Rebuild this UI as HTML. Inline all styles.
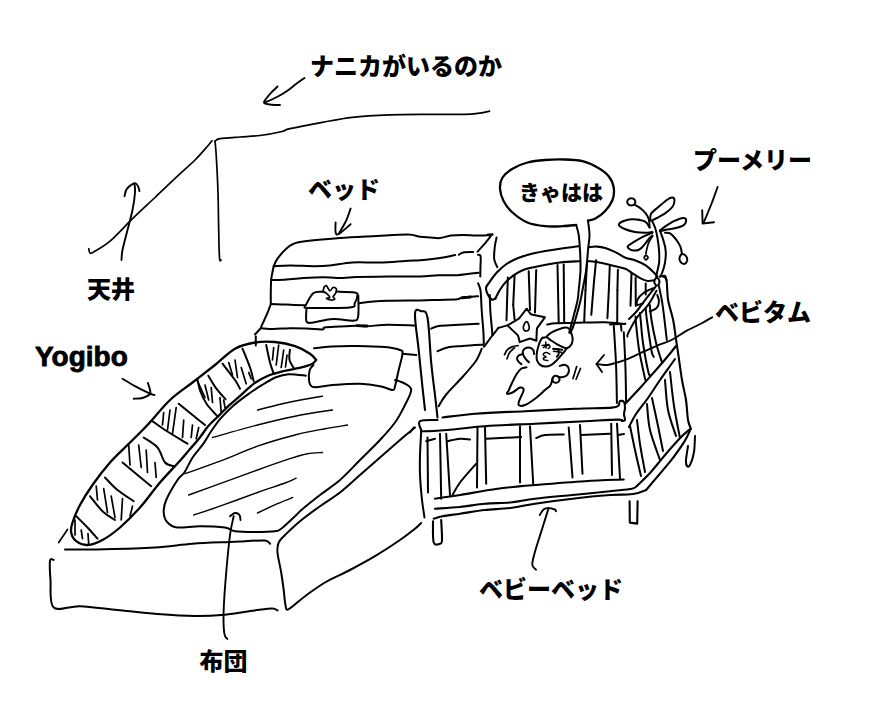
<!DOCTYPE html>
<html lang="ja"><head><meta charset="utf-8"><title>sketch</title>
<style>
html,body{margin:0;padding:0;background:#fff;font-family:"Liberation Sans",sans-serif;}
body{width:890px;height:716px;overflow:hidden;}
svg{display:block;}
.ln{fill:none;stroke:#000;stroke-linecap:round;stroke-linejoin:round;}
.tx{fill:#000;stroke:none;}
</style></head><body>
<svg width="890" height="716" viewBox="0 0 890 716" role="img" aria-label="hand-drawn bedroom sketch">
<rect width="890" height="716" fill="#fff"/>
<g class="ln" stroke-width="1.4">
<path d="M257.5 410C261.7 408.9 274.2 405.6 282.5 403.7C290.8 401.8 300.8 399.9 307.5 398.7C314.2 397.4 320 396.6 322.5 396.2"/>
<path d="M212.5 437.5C220 435.4 243.8 428.6 257.5 425C271.2 421.4 282.5 418.7 295 416.2C307.5 413.7 326.2 411 332.5 410"/>
<path d="M185 473.7C190.8 471.6 207.9 465.8 220 461.2C232.1 456.6 245 450.6 257.5 446.2C270 441.8 283.8 437.9 295 435C306.2 432.1 316.2 430.4 325 428.7C333.8 427 343.8 425.6 347.5 425"/>
<path d="M188.7 495C193.9 493.1 208.5 487.9 220 483.7C231.5 479.5 245.8 474.2 257.5 470C269.2 465.8 281.7 461.4 290 458.7C298.3 456 302.1 454.7 307.5 453.7C312.9 452.7 320 452.7 322.5 452.5"/>
<path d="M193.7 515C198.1 513.5 209.4 509.9 220 506.2C230.6 502.4 246.7 496.4 257.5 492.5C268.3 488.6 278.6 485.4 285 483C291.4 480.6 294.3 479 296.2 478.2"/>
<path d="M257.5 513C260.8 511.4 271.7 506.3 277.5 503.7C283.3 501.1 290 498.5 292.5 497.5"/>
</g>
<g class="ln" stroke-width="1.5">
<path d="M542.1 345.5L548.8 344.5"/>
<path d="M545.8 342.1L546.1 348.1"/>
<path d="M543.4 347.5C544 347.2 545.8 345.8 546.8 345.5C547.8 345.2 548.9 345.2 549.4 345.5C549.9 345.8 550 347 549.8 347.5C549.6 348 548.4 348.3 548.1 348.5"/>
<path d="M553.5 351.2L561.5 352.2"/>
<path d="M549.8 354.2C549.3 353.9 547.8 352.7 546.8 352.5C545.8 352.3 544.7 352.8 544.1 353.2C543.5 353.6 543.1 354.6 543.4 355.2C543.7 355.8 546.1 356.4 546.1 356.9C546.1 357.4 543.7 357.7 543.4 358.2C543.1 358.7 543.4 359.5 544.1 359.9C544.8 360.3 547.2 360.4 547.8 360.5"/>
</g>
<g class="ln" stroke-width="1.7">
<path d="M88.7 248.7C88.9 249.4 89.2 252.4 90 253C90.8 253.6 90.4 254 93.7 252C97 250 103.5 246.8 110 241.2C116.5 235.6 125 226 132.5 218.7C140 211.4 147.5 204.6 155 197.5C162.5 190.4 170.8 182.4 177.5 176.2C184.2 169.9 190 165 195 160C200 155 204.7 149.4 207.5 146.2C210.3 143 211.2 141.6 212 140.7"/>
<path d="M215 141.2C215.2 143.5 215.7 146.4 216.2 155C216.7 163.6 217.6 180 218 192.5C218.4 205 218.4 219.1 218.7 230C218.9 240.9 219.1 253 219.5 258C219.9 263 220.8 259.7 221 260"/>
<path d="M215 141.2C215.8 140.8 215.8 139.4 220 138.7C224.2 138 233.3 137.5 240 137C246.7 136.5 253 136.4 260 135.5C267 134.6 277 132.7 282 131.5C287 130.3 283.3 130.1 290 128.6C296.7 127.1 312 124.2 322.4 122.3C332.8 120.4 341.2 118.5 352.4 117.3C363.6 116 376.9 115.3 389.8 114.8C402.7 114.3 417.2 114.4 429.7 114.3C442.2 114.2 456.3 114.5 464.6 114.3C472.9 114.1 475.5 113.6 479.6 113.1C483.8 112.6 487.9 111.4 489.5 111.1"/>
<path d="M323.1 291.6C323.2 290.9 323.4 288.5 324 287.5C324.6 286.5 325.5 285.2 326.5 285.8C327.5 286.4 328.7 290.5 329.8 290.8C330.9 291.1 332 287.8 333.1 287.5C334.2 287.2 336 288.1 336.4 289.1C336.8 290.1 336.2 292.1 335.6 293.3C335.1 294.6 333.2 295.6 333.1 296.6C333 297.6 335.2 298.5 334.8 299.1C334.4 299.7 332 300.1 330.6 300C329.2 299.9 326.6 298.7 326.5 298.3C326.4 297.9 329.8 298.2 329.8 297.4C329.8 296.6 327.6 294.3 326.5 293.3C325.4 292.3 323.7 291.9 323.1 291.6"/>
<path d="M58.7 542.5L67.5 529.5"/>
<path d="M228.7 362.5L232.5 375"/>
<path d="M235 360L237.5 377.5"/>
<path d="M241.2 367.5L246.2 383.7"/>
<path d="M248.7 372.5L251.2 378.7"/>
<path d="M273.7 347.5L272.5 360"/>
<path d="M278.7 345L276.2 365"/>
<path d="M283.7 350L281.2 367.5"/>
<path d="M287 355L285.5 367"/>
<path d="M197.5 381.2L205 397.5"/>
<path d="M205 385L208.7 400"/>
<path d="M211.2 387.5L212.5 402.5"/>
<path d="M220 397.5L221.2 412.5"/>
<path d="M223.7 400L225 407.5"/>
<path d="M163.7 412.5L162.5 425"/>
<path d="M170 410L167.5 430"/>
<path d="M176.2 407.5L172.5 433.7"/>
<path d="M183.7 420L182.5 437.5"/>
<path d="M192.5 425L191.2 437.5"/>
<path d="M198.7 427.5L196.2 438.7"/>
<path d="M128.7 445L130 465"/>
<path d="M138.7 445L141.2 467.5"/>
<path d="M146.2 450L147.5 472.5"/>
<path d="M155 462.5L156.2 477.5"/>
<path d="M96.2 486.2L97.5 500"/>
<path d="M103.7 488.7L107.5 512.5"/>
<path d="M111.2 496.2L115 517.5"/>
<path d="M122.5 498.7L121.2 520"/>
<path d="M132.5 506.2L130 516.2"/>
<path d="M75 520L75 535"/>
<path d="M81.2 530L82.5 538.7"/>
<path d="M88 533.7L88.7 543.7"/>
<path d="M526.6 321.7C525.7 321.8 524.1 324.6 523.6 326C523.1 327.4 523.4 329.1 523.9 329.9C524.4 330.7 525.7 331.1 526.5 331C527.3 330.9 528.5 330.3 528.9 329.4C529.3 328.5 529.3 326.7 528.9 325.4C528.5 324.1 527.5 321.6 526.6 321.7Z"/>
<path d="M504.5 354.7C505 353.9 506.1 351 507.5 349.7C508.9 348.4 510.8 347.3 512.6 346.6C514.4 345.9 517.2 345.8 518.1 345.6"/>
<path d="M507 358.8C507.4 357.8 508.2 354.6 509.5 352.7C510.8 350.8 513.8 348.5 514.6 347.6"/>
<path d="M573 378.6L576.7 366.6"/>
<path d="M576.1 379.2L580.5 368.5"/>
<path d="M652.5 236.3C651.9 237.3 649.9 240 648.9 242.2C647.9 244.4 647.2 247.6 646.7 249.5C646.2 251.4 646 253.2 645.9 253.9"/>
<path d="M646 255.3C646.6 255.3 648 256.8 648 257.5C648 258.2 646.6 259.8 646 259.8C645.4 259.8 644.2 258.2 644.2 257.5C644.2 256.8 645.4 255.3 646 255.3Z"/>
</g>
<g class="ln" stroke-width="1.8">
<path d="M558.2 348.8C558.3 349.6 559 352.1 558.8 353.5C558.6 354.9 557.1 356.3 556.8 356.9"/>
</g>
<g class="ln" stroke-width="1.9">
<path d="M121.5 260C121.7 258.3 121.5 255 122.5 250C123.5 245 125.8 236.7 127.5 230C129.2 223.3 131.2 216.2 132.5 210C133.8 203.8 134.7 196.9 135 192.5C135.3 188.1 134.6 185.2 134.5 183.7"/>
<path d="M124.5 196.2C124.9 194.9 125.3 190.9 127 188.7C128.7 186.5 132.7 183.6 134.5 183.2C136.3 182.8 137.2 184.9 138 186.2C138.8 187.5 139.2 190.4 139.5 191.2"/>
<path d="M304.5 78C303.1 79 298.9 81.8 296 84C293.1 86.2 290.2 88.8 287 91C283.8 93.2 280.7 95.1 277 97C273.3 98.9 267 101.6 265 102.5"/>
<path d="M277.5 86.5C276.2 87.8 272.2 91.3 270 94C267.8 96.7 263.7 100.7 264 102.5C264.3 104.3 269.3 104.3 272 104.7C274.7 105.1 278.7 105 280 105"/>
<path d="M350.6 208.6C349.8 210.7 348 216.8 346 221C344 225.2 340 231.5 338.8 233.6"/>
<path d="M335.6 222.4C335.6 224.1 335.1 230.4 335.6 232.3C336.1 234.2 336.3 235.3 338.8 234C341.3 232.7 348.6 225.8 350.6 224.2"/>
<path d="M717.6 187C716.5 190 713.4 199 711 205C708.6 211 704.8 220 703.5 223"/>
<path d="M702.2 210.3L702.6 223.5L714 222.3"/>
<path d="M122.5 378.7C124.6 379.9 130.4 383.7 135 386.2C139.6 388.7 146.8 392.2 150 393.7C153.2 395.2 153.8 394.8 154.5 395"/>
<path d="M148 383C148.3 384.2 149.7 388.1 150 390C150.3 391.9 151.2 392.9 150 394.2C148.8 395.5 145.2 397.2 142.5 398C139.8 398.8 135.2 398.6 133.7 398.7"/>
<path d="M227.3 638.9C226.8 638 224.9 637.9 224.3 633.4C223.7 628.9 223.3 622.1 223.6 612C223.9 601.9 225.1 585.3 226.2 572.5C227.3 559.7 228.8 544.4 230 535C231.2 525.6 233.1 519.3 233.7 516.2"/>
<path d="M230 516.2C230.8 515.7 233.4 513.2 235 513C236.6 512.8 238.6 513.8 239.5 515C240.4 516.2 240.3 519.2 240.5 520"/>
<path d="M536 569.8C535.4 569 532.5 567.7 532.3 564.8C532.1 561.9 533.3 557.8 534.8 552.4C536.2 547 538.9 539.1 541 532.4C543.1 525.7 546 516.4 547.3 512.4C548.5 508.4 548.3 509.3 548.5 508.7"/>
<path d="M539.8 515C540.4 514.1 542 510.7 543.5 509.5C545 508.3 546.6 508 548.5 508C550.4 508 553.5 509 554.8 509.5C556 510 555.8 510.9 556 511.2"/>
<path d="M596.5 364C597.8 364.2 601.8 364.9 604 365C606.2 365.1 606.4 365.4 610 364.5C613.6 363.6 620.3 361.8 625.4 359.9C630.5 358 635.6 355.3 640.7 353C645.8 350.7 651 348.3 656.1 346.1C661.2 343.9 666.3 342.6 671.4 340C676.5 337.4 681.7 333.5 686.8 330.7C691.9 327.9 698 325.2 702.2 323C706.4 320.8 710.5 318.2 712.2 317.3"/>
<path d="M604 355L596.5 364L602 372"/>
</g>
<g class="ln" stroke-width="2">
<path d="M273.7 266.2C274.3 264.9 275.4 261.6 277.5 258.7C279.6 255.8 283.5 251.2 286.2 248.7C288.9 246.2 290.6 244.9 293.7 243.7C296.8 242.4 297.3 242.1 305 241.2C312.7 240.2 328 238.9 340 238C352 237.1 365.7 236.6 377 236C388.3 235.4 400.8 234.5 408 234.6C415.2 234.7 416.4 236.3 420 236.8C423.6 237.3 426.6 237.3 429.9 237.5C433.2 237.7 436.3 238.4 439.8 238.1C443.3 237.8 447 236.1 450.9 235.6C454.8 235.1 459.2 235 463.3 235C467.4 235 471.7 235.5 475.6 235.6C479.5 235.7 484 235.4 486.7 235.3C489.4 235.2 490.9 235.1 491.7 235"/>
<path d="M491.1 235.6C490 237 486.6 241.5 484.3 244.2C482 246.9 478.6 250.4 477.5 251.7"/>
<path d="M273.7 266.2C276.4 266.1 283.1 265.5 290 265.5C296.9 265.5 308.3 266.2 315 266.2C321.7 266.2 323.8 266.1 330 265.5C336.2 264.9 344.2 263 352.5 262.5C360.8 262 371.2 262.8 380 262.5C388.8 262.2 398.3 261.4 405 261C411.7 260.6 415.4 260.6 420 260.3C424.6 260 428.3 259.6 432.4 259.1C436.5 258.6 440.9 257.9 444.7 257.2C448.5 256.5 453.4 255.4 455.2 255.1"/>
<path d="M458.9 254.8C459.6 254.4 460.9 252.9 463.3 252.4C465.7 251.9 471.6 252.1 473.2 252"/>
<path d="M273.7 266.2C273.5 267.3 272.7 270.7 272.3 273C271.9 275.3 271.4 276.9 271.2 280C270.9 283.1 270.9 287.7 270.8 291.6C270.7 295.5 270.8 301.5 270.8 303.5"/>
<path d="M271.2 280C273.2 280 277.9 280.1 283.2 279.8C288.5 279.5 296.5 278.4 303.2 278C309.9 277.6 316.5 277.2 323.1 277.2C329.8 277.2 337.6 278 343.1 278C348.7 278 348.9 277.2 356.4 277C363.9 276.8 377.4 276.6 388 276.5C398.6 276.4 411.6 276.6 420 276.4C428.4 276.2 432.3 275.4 438.5 275.2C444.7 275 452 275.4 457.1 275.2C462.2 274.9 465.8 274.1 469.4 273.7C473 273.3 477.1 272.9 478.7 272.7"/>
<path d="M270.8 304C273.4 304.1 280.9 304.4 286.6 304.6C292.3 304.8 301.9 305.2 305 305.3"/>
<path d="M358.9 303.3C361.2 303 368.1 302 373 301.6C377.9 301.2 380.2 301 388 300.8C395.8 300.6 411.6 300.6 420 300.5C428.4 300.4 432.3 300.1 438.5 299.9C444.7 299.7 453.2 299.7 457.1 299.3C461 298.9 458.5 298.1 462 297.6C465.5 297.1 475.4 296.4 478.1 296.2"/>
<path d="M270.8 304C270.2 305.5 268.8 309.9 267.4 313.2C266 316.5 263.5 321.6 262.4 324C261.3 326.4 261.2 326.9 261 327.5"/>
<path d="M260.8 328.2C262.9 328.3 268.5 329 273.3 329C278.1 329 284.4 328.3 289.9 328.2C295.4 328.1 301.1 328.3 306.5 328.5C311.9 328.7 319.2 329.7 322.3 329.5C325.4 329.3 321.9 327.9 324.8 327.4C327.7 326.9 334.5 326.8 339.8 326.5C345.1 326.2 352 325.8 356.4 325.7C360.8 325.6 361.1 326.3 366.4 326.2C371.7 326.1 379.9 324.9 388 324.8C396.1 324.7 410.5 325.4 415 325.5"/>
<path d="M260 329L255 334.5"/>
<path d="M255.8 336.5L255.8 345.5"/>
<path d="M478.1 254.8C478.5 255 480.2 254.3 480.6 256.2C481 258.1 480.6 262.6 480.5 266C480.4 269.4 480.3 274.7 480.3 276.4"/>
<path d="M478.1 283.2C478.5 284.5 480 286.7 480.6 291.2C481.2 295.7 481.2 303.7 481.7 310.2C482.1 316.7 482.9 324.8 483.3 330.4C483.7 336 483.7 341.4 483.8 343.6"/>
<path d="M431.2 328.7C432.2 328.3 434.4 326.8 437.5 326.2C440.6 325.6 443.1 325.6 450 325.2C456.9 324.8 473.9 323.9 478.7 323.7"/>
<path d="M437.5 351.2C439.2 350.6 443.3 348.4 447.5 347.5C451.7 346.6 456.5 346.5 462.5 346C468.5 345.5 480 344.9 483.5 344.7"/>
<path d="M496.6 237.5C496.3 239 495.2 243.1 494.8 246.7C494.4 250.3 493.8 255.7 494.2 259.1C494.6 262.5 496.8 265.8 497.3 267.1"/>
<path d="M489.8 295C489.9 297.5 490 304.6 490.3 310.2C490.6 315.8 491.5 324.2 491.9 328.4C492.2 332.6 492.3 334.3 492.4 335.5"/>
<path d="M304.5 307.6C305.9 305.2 310.1 295.9 313.2 293.3C316.3 290.7 321.5 292.1 323.1 291.8"/>
<path d="M336.4 291.6C339.4 291.7 351.2 291.8 354.7 292.4C358.2 293 357.4 293.2 357.4 295C357.4 296.8 356 301.2 354.7 303.3C353.4 305.4 357.7 306.6 349.7 307.4C341.7 308.2 313.7 307.9 306.5 308"/>
<path d="M306.5 308C306.5 310.2 305.4 319.1 306.5 321.5C307.6 323.9 308.8 322.8 313.2 322.4C317.6 322 326.5 319.3 333.1 319C339.8 318.7 348.9 321.1 353.1 320.7C357.3 320.3 357.2 320.8 358.1 316.6C359 312.4 358.3 299 358.3 295.5"/>
<path d="M314 348.2C316.9 347.9 324.4 346.9 331.5 346.5C338.6 346.1 347.5 345.9 356.4 346C365.3 346.1 377.7 346.3 385 347C392.3 347.7 397.1 348.9 400 350C402.9 351.1 402.7 350.4 402.5 353.7C402.3 357 399.9 364.6 398.7 370C397.4 375.4 396 382.9 395 386.2C394 389.5 395 390 392.5 390C390 390 385.4 387.2 380 386.2C374.6 385.1 367.9 383.9 360 383.7C352.1 383.5 340.3 384.4 332.5 385C324.7 385.6 317.1 387.8 313.2 387C309.3 386.2 309.6 382.9 309 380C308.4 377.1 309.1 372.3 309.8 369.8C310.6 367.3 312.9 365.8 313.5 365"/>
<path d="M402.5 353.7L416.2 355"/>
<path d="M395 380C396.7 380.6 402.3 382 405 383.7C407.7 385.4 411.2 386.4 411.2 390C411.2 393.6 407.7 399.6 405 405C402.3 410.4 399.2 416.7 395 422.5C390.8 428.3 385.8 433.8 380 440C374.2 446.2 366.7 453.3 360 460C353.3 466.7 346.7 474.2 340 480C333.3 485.8 326.2 490.2 320 495C313.8 499.8 306.7 505.5 302.5 509C298.3 512.5 298.6 512.9 295 516.2C291.4 519.5 284.5 526.2 281.2 528.7C277.9 531.2 279.4 530.7 275 531.2C270.6 531.8 261.7 532 255 532C248.3 532 240 532 235 531.2C230 530.5 230.8 528.3 225 527.5C219.2 526.7 207.9 526.2 200 526.2C192.1 526.2 182.9 528.1 177.5 527.5C172.1 526.9 169.8 525 167.5 522.5C165.2 520 163.9 516.2 163.7 512.5C163.5 508.8 163.9 505.4 166.2 500C168.5 494.6 174.4 484.7 177.5 480C180.6 475.3 182.2 475.8 184.7 472C187.2 468.2 189.4 462.3 192.6 457.5C195.8 452.7 200.4 447.8 203.6 443.4C206.8 438.9 208.6 435 211.5 430.8C214.4 426.6 217.2 422.4 220.9 418.2C224.6 414 229.1 409.5 233.5 405.6C237.9 401.7 242.9 398 247.6 394.6C252.3 391.2 257.1 388.1 261.8 385.2C266.5 382.3 271.6 379.1 276 377.3C280.4 375.5 283.5 374.5 288.5 374.2C293.5 373.9 302.9 375.4 305.8 375.7"/>
<path d="M415 427.5C412.5 429.6 405.8 435 400 440C394.2 445 386.7 451.7 380 457.5C373.3 463.3 366.7 469.2 360 475C353.3 480.8 346.7 487.3 340 492.5C333.3 497.7 326.7 501.4 320 506.2C313.3 511 305.8 516.4 300 521.2C294.2 526 288.6 531.5 285 535C281.4 538.5 279.9 539.6 278.7 542.5C277.4 545.4 277.1 547.5 277.5 552.5C277.9 557.5 280.2 566.2 281.2 572.5C282.2 578.8 283 584.6 283.7 590C284.4 595.4 284.7 601.8 285.5 605C286.3 608.2 285.4 610.7 288.7 609.2C291.9 607.7 298.9 600.7 305 596.2C311.1 591.8 317.5 586.9 325 582.5C332.5 578.1 341.7 574.4 350 570C358.3 565.6 366.7 561.2 375 556.2C383.3 551.2 393.3 544.6 400 540C406.7 535.4 411.5 531.5 415 528.7C418.5 525.9 420.2 524 421.2 523"/>
<path d="M65 549.5C71.7 549.5 90 549.5 105 549.2C120 548.9 140.4 548.4 155 547.5C169.6 546.6 180 544.6 192.5 543.7C205 542.8 221.2 542.4 230 542C238.8 541.6 239.2 541.5 245 541.2C250.8 541 260.8 540.1 265 540.5C269.2 540.9 269.2 543.2 270 543.7"/>
<path d="M53.7 560C53.1 560.1 50.5 557.4 50 560.7C49.5 564 49.9 572.2 50.5 580C51.1 587.8 48.8 603.1 53.7 607.5C58.6 611.9 69.4 605.8 80 606.2C90.6 606.6 104.6 608.7 117.5 610C130.4 611.3 144.5 613 157.4 614C170.3 615 183.6 615.9 194.8 616C206 616.1 214.8 615.6 224.8 614.7C234.8 613.8 246.8 611.4 254.7 610.4C262.6 609.4 268.4 608.5 272.2 608.5C276 608.5 276.7 610.1 277.6 610.4"/>
<path d="M222.5 363.7C224.6 366.4 232.1 375.8 235 380C237.9 384.2 239.2 387.2 240 388.7"/>
<path d="M242.5 348.7C243.8 351.8 248.1 362.1 250 367.5C251.9 372.9 253.1 378.9 253.7 381.2"/>
<path d="M266.2 345C266.8 347.9 268.8 357.7 270 362.5C271.2 367.3 273.1 371.8 273.7 373.7"/>
<path d="M289.9 349.8C289.8 351.5 288.8 356.7 289.5 359.8C290.2 362.9 293.2 367.1 294 368.5"/>
<path d="M197.3 378.9C197.8 381 198.8 387.3 200.4 391.5C202 395.7 203.9 399.9 206.7 404C209.5 408.1 215.3 413.8 217 415.8"/>
<path d="M208.3 375.7C209.6 377.8 213.3 384.4 216.2 388.3C219.1 392.2 224 397.5 225.6 399.3"/>
<path d="M178.7 403.7C181 405.6 188.1 411.4 192.5 415C196.9 418.6 202.9 423.3 205 425"/>
<path d="M152.5 421.2C154.6 422.7 159.2 426.2 165 430C170.8 433.8 183.8 441.4 187.5 443.7"/>
<path d="M143.7 437.5C146 439.2 153.9 443.3 157.5 447.5C161.1 451.7 162.3 459.4 165 462.5C167.7 465.6 172.2 465.6 173.7 466.2"/>
<path d="M122.5 462.5C125 464.6 132.7 471.1 137.5 475C142.3 478.9 148.9 484.3 151.2 486.2"/>
<path d="M105 477.5C107.1 479.6 112.7 486.1 117.5 490C122.3 493.9 131 499.3 133.7 501.2"/>
<path d="M90 496.2C92.1 498.7 98.3 507.2 102.5 511.2C106.7 515.2 112.9 518.5 115 520"/>
<path d="M76.2 516.2C78.1 518.1 84 523.8 87.5 527.5C91 531.2 95.8 536.8 97.5 538.7"/>
<path d="M507.8 277.6L506.5 320.3"/>
<path d="M514.6 275.2L513.2 305"/>
<path d="M513.2 305L514.6 319.3"/>
<path d="M528.7 271.2L530 310"/>
<path d="M536.2 270L535 312.5"/>
<path d="M557.5 265L558.7 322.5"/>
<path d="M563.7 264.5L564.2 322.5"/>
<path d="M587 261.7L585.5 290"/>
<path d="M585.5 290L584.2 321.5"/>
<path d="M596.1 260.2L594.1 280.4"/>
<path d="M594.1 280.4L591.3 314.8"/>
<path d="M609.8 265.3L608.8 290.6"/>
<path d="M608.8 290.6L607.4 318.2"/>
<path d="M617.9 269.8L617.4 290.6"/>
<path d="M617.4 290.6L617.2 322.3"/>
<path d="M631.5 273.4L630.5 305.7"/>
<path d="M635.6 277.4L635.8 306"/>
<path d="M645.7 283.5L645.7 294.6"/>
<path d="M547.2 324.5C548.6 324.3 551.5 323.6 555.4 323.3C559.3 323.1 565.5 323.1 570.5 323C575.5 322.9 579.8 322.7 585.5 322.6C591.2 322.5 598.4 322.1 605 322.3C611.6 322.5 621.6 323.7 624.9 324"/>
<path d="M507.5 325.4L498.4 327.9"/>
<path d="M498.4 327.9C497.4 329.2 494.6 332.6 492.4 335.5C490.2 338.4 486.7 343.2 485.3 345.1C483.9 347 484.1 346.4 483.8 346.6"/>
<path d="M481.7 348.7C481.3 349.7 480.3 352.5 479.2 354.7C478.1 356.9 478 358.3 475.2 362C472.4 365.7 467.3 371.6 462.5 377C457.7 382.4 450.2 389.6 446.2 394.5C442.2 399.4 439.9 404.2 438.7 406.2"/>
<path d="M427.5 437.5L428 492.5"/>
<path d="M440 433.7L441.2 498.7"/>
<path d="M446.2 433.7L450 495"/>
<path d="M477.5 427.5L477 487.5"/>
<path d="M485 427.5L486.2 483.7"/>
<path d="M520 426.2L520 482.5"/>
<path d="M530 426.2L533.2 483.7"/>
<path d="M568.7 427.5L572.5 477.5"/>
<path d="M580 425L582.5 473.7"/>
<path d="M611.2 423.7L612 475"/>
<path d="M617 423.7L620 478.7"/>
<path d="M426.2 441.2L435 438.7"/>
<path d="M447.5 441.2C449.6 440.8 456.2 439 460 438.7C463.8 438.4 468.3 439.4 470 439.5"/>
<path d="M486.2 438.7L521.2 437"/>
<path d="M536.2 438C537.7 437.5 540.4 435.6 545 435C549.6 434.4 560.6 434.6 563.7 434.5"/>
<path d="M581.2 435L610 433.7"/>
<path d="M618 435L624 434"/>
<path d="M452.5 495C453.8 492.9 456.1 487.7 460 482.5C463.9 477.3 473.5 466.8 476.2 463.7"/>
<path d="M688 446C687.7 448.3 686.2 456.7 686 460C685.8 463.3 686.3 465.2 687 466C687.7 466.8 688.8 467.3 690 465C691.2 462.7 693.2 456.8 694 452C694.8 447.2 694.8 438.7 695 436"/>
<path d="M610 324.6L625.4 323.8"/>
<path d="M613.8 326.1C614.2 332.8 615.6 353.3 616.1 366.1C616.6 378.9 616.8 396.9 616.9 403"/>
<path d="M623.8 332.3C624.1 337.9 625 354.6 625.4 366.1C625.8 377.6 626 395.5 626.1 401.4"/>
<path d="M620.8 323.8L621.5 330.7"/>
<path d="M658.8 285.5C659.3 288 660.9 294.9 661.9 300.7C662.9 306.4 663.7 313.4 664.5 320C665.3 326.6 666.4 336.7 666.8 340"/>
<path d="M635.6 316.5C635.7 317.9 635.5 318.9 636.1 324.6C636.7 330.3 637.7 341.5 639.2 350.7C640.7 359.9 644.3 375 645.3 379.9"/>
<path d="M639.9 313C640 314.2 640.2 315 640.7 320C641.2 325 641.7 334.3 643 343C644.3 351.7 647.1 366.8 648.4 372.2C649.7 377.6 650.3 374.8 650.7 375.3"/>
<path d="M645.7 308.2C645.9 310.2 645.9 312.9 646.9 320C647.9 327.1 650.4 344.6 651.5 350.7C652.6 356.8 653.4 355.9 653.8 356.9"/>
<path d="M649.8 304.9C650.1 307.4 650.5 313.6 651.5 320C652.5 326.4 654.6 336.6 656.1 343C657.6 349.4 659.7 355.1 660.7 358.4C661.7 361.7 662 362.2 662.2 363"/>
<path d="M630 426C630.8 430 633.2 441.7 635 450C636.8 458.3 640 471.7 641 476"/>
<path d="M637 420C637.5 424 638.7 435.3 640 444C641.3 452.7 644.2 467.3 645 472"/>
<path d="M647 404C647.5 408.3 647.8 420.7 650 430C652.2 439.3 658.3 455 660 460"/>
<path d="M652 398C653 402.7 656.2 417.2 658 426C659.8 434.8 662.2 446.8 663 451"/>
<path d="M665 380C665.5 385 666.2 400.7 668 410C669.8 419.3 674.7 431.7 676 436"/>
<path d="M670 372C670.7 377.7 672.3 395 674 406C675.7 417 679 432.7 680 438"/>
<path d="M655.7 286.6C654.2 288.5 649.7 294.1 646.5 298.2C643.3 302.3 639.4 308 636.5 311.5C633.6 315 630.2 317.8 629 319"/>
<path d="M656.5 290.7C655.1 293.1 651.5 300.3 648.2 304.9C644.9 309.5 639.8 313.5 636.5 318.2C633.2 322.9 629.7 330.1 628.2 333.1C626.7 336.2 627.5 335.9 627.4 336.5"/>
<path d="M653.2 288.2C651.5 289 645.8 291.2 643.2 293.2C640.6 295.1 638.4 297.9 637.4 299.9C636.4 301.8 636.4 304.3 637.4 304.9C638.4 305.4 642.2 303.5 643.2 303.2"/>
<path d="M657.3 294.9C657.6 296 659.1 299.3 659 301.5C658.9 303.7 658 306.5 656.5 308.2C655 309.9 650.9 310.9 649.8 311.5"/>
<path d="M410 432.5L413.7 427.5"/>
<path d="M421.2 431.2C421 435.2 420.2 447.7 420 455C419.8 462.3 419.7 467.5 420 475C420.3 482.5 421.2 492.9 422 500C422.8 507.1 424.1 514.6 424.5 517.5"/>
<path d="M526.7 308.7L530.2 313.5L531 314.3L532.8 314.7L544.9 317.3L538 326.8L537 328.4L536.8 330.1L536.4 340.8L530.7 338.8L529.7 338.6L528.4 339L519.7 342.1L518.3 336.4L517.9 335.4L516.6 334.1L507.5 325.4L517.6 319.3L519.1 318.3L520.2 317Z"/>
<path d="M546.8 336.4C547.3 335.9 548.4 334.5 550.1 333.4C551.8 332.3 554.6 330.9 556.8 330C559 329.1 561.6 328 563.5 327.7C565.4 327.4 567 327.3 568.2 328C569.4 328.7 570.2 330.4 570.9 332.1C571.6 333.8 572.4 336.2 572.6 338.1C572.8 340 572.4 341.9 571.9 343.4C571.4 344.8 570.4 345.9 569.5 346.8C568.6 347.7 567 348.2 566.5 348.5"/>
<path d="M542.4 337.8C543.1 337.7 545.5 337.1 546.8 337.4C548.1 337.7 548.4 338.7 550.1 339.8C551.8 340.9 554.8 342.9 556.8 344.1C558.8 345.3 560.6 346.1 562.2 346.8C563.8 347.5 565.8 348.2 566.5 348.5"/>
<path d="M542.4 337.8C542 338.4 540.8 339.8 540.1 341.4C539.4 343 538.6 345.4 538 347.5C537.4 349.6 536.9 352.1 536.7 354.2C536.5 356.3 536.4 358.4 537 360.2C537.6 362 538.7 363.8 540.1 364.9C541.5 366 543.5 366.6 545.4 366.6C547.3 366.6 549.5 366 551.4 364.9C553.3 363.8 555.1 361.9 556.8 360.2C558.5 358.5 560.1 356.4 561.5 354.8C562.9 353.2 564.1 351.9 564.9 350.8C565.7 349.8 566.2 348.9 566.5 348.5"/>
<path d="M553.1 348.8L562.2 349.8"/>
<path d="M534 354C533.9 353.4 534 351.3 533.4 350.3C532.8 349.3 531.4 348.2 530.2 347.8C529.1 347.4 527.6 347.4 526.5 347.8C525.4 348.2 523.9 349.3 523.3 350.3C522.7 351.3 522.5 352.5 522.9 354C523.3 355.5 524.8 357.7 525.8 359.1C526.8 360.5 528.5 361.7 529 362.2"/>
<path d="M522.9 354C522.2 354.2 519.9 354.6 518.9 355.3C517.9 356.1 517 357.4 517 358.5C517 359.6 518.2 361.3 518.9 362.2C519.6 363.1 521 363.8 521.4 364.1"/>
<path d="M526.5 367.3C525.6 367.5 523 367.5 521.4 368.5C519.8 369.5 518.5 371.3 517 373.5C515.5 375.7 514 378.9 512.6 381.7C511.2 384.4 509.8 388 508.9 390C508 392 506.4 393.3 507 393.7C507.6 394.1 510.3 393.5 512.5 392.5C514.7 391.5 518.1 387.9 520 387.5C521.9 387.1 523.8 387.9 523.7 390C523.6 392.1 520.3 397.5 519.5 400C518.7 402.5 517.8 404.2 518.7 405C519.6 405.8 522.3 406.1 525 405C527.7 403.9 531.7 401.2 535 398.7C538.3 396.2 542.5 392.2 545 390C547.5 387.8 549 387.5 550.3 385.5C551.6 383.5 552.5 379.2 552.9 378"/>
<path d="M559.8 366C560.5 365.8 562.9 364.6 564.2 364.7C565.6 364.8 567.1 365.6 567.9 366.6C568.7 367.7 569.1 369.5 568.9 371C568.7 372.5 567.9 374.3 566.7 375.4C565.5 376.4 563.1 377.1 561.7 377.3C560.3 377.5 559 376.8 558.5 376.7"/>
<path d="M556 375.7C554.9 375.6 553.4 376.6 552.8 377.5C552.2 378.4 552.1 380.1 552.6 381C553.1 381.9 554.5 382.7 555.5 382.8C556.5 382.9 558.2 382.3 558.8 381.5C559.4 380.7 559.7 379 559.2 378C558.7 377 557.1 375.8 556 375.7Z"/>
<path d="M652.5 221.7C653 222.9 654.6 226.1 655.5 229C656.4 231.9 657.1 235.6 657.7 239.3C658.3 243 658.9 247.1 659.1 251C659.3 254.9 659.5 259 659.1 262.7C658.7 266.4 657.4 270.6 656.9 273C656.4 275.4 656.3 276.7 656.2 277.4"/>
<path d="M659.9 230.5C660.5 232.2 662.5 237.3 663.5 240.7C664.5 244.1 665.5 247.3 665.7 251C666 254.7 665.6 259 665 262.7C664.4 266.4 663 270.7 662.1 273C661.2 275.3 660.3 276 659.9 276.6"/>
<path d="M656.9 278.1C657.6 278.1 658.7 279.1 659.1 280C659.5 280.9 659.5 282.8 659.1 283.7C658.7 284.6 657.6 285.5 656.9 285.5C656.2 285.5 655.1 284.6 654.7 283.7C654.3 282.8 654.3 280.9 654.7 280C655.1 279.1 656.2 278.1 656.9 278.1Z"/>
<path d="M650.3 219.5C650.4 218.5 649.8 215.7 651.1 213.6C652.5 211.5 655.7 209.3 658.4 207C661.1 204.7 664.9 201.3 667.2 199.7C669.5 198.1 671.1 197.4 672.3 197.5C673.5 197.6 674.5 198.8 674.5 200.4C674.5 202 673.8 204.9 672.3 207C670.8 209.1 668.3 211.1 665.7 212.9C663.1 214.7 659.3 216.7 656.9 218C654.5 219.3 652.1 220.4 651.1 220.9"/>
<path d="M649.6 227.5C648.9 226.5 647.4 223 645.2 221.7C643 220.4 639.6 219.8 636.4 219.5C633.2 219.2 629 219.3 626.1 220.2C623.2 221 619 223.1 618.8 224.6C618.6 226.1 622 227.8 624.7 229C627.4 230.2 631.5 231.3 634.9 231.9C638.3 232.5 642.3 232.7 645.2 232.7C648.1 232.7 651.3 232 652.5 231.9"/>
<path d="M659.9 230.5C660.9 229.8 663.3 227.7 665.7 226.1C668.1 224.5 671.6 222.2 674.5 220.9C677.4 219.6 681.3 218.1 683.3 218C685.2 217.9 686.2 219 686.2 220.2C686.2 221.4 685.2 224 683.3 225.3C681.3 226.7 677.4 227.6 674.5 228.3C671.6 229 668.1 229.2 665.7 229.7C663.3 230.2 660.9 230.9 659.9 231.2"/>
<path d="M652.5 232.7C651 233.3 646.9 234.7 643.7 236.3C640.5 237.9 636.2 240.5 633.5 242.2C630.8 243.9 627.9 245.3 627.6 246.6C627.4 247.9 630 249.7 632 250.2C634 250.7 637.1 250.6 639.3 249.5C641.5 248.4 643.5 245.6 645.2 243.7C646.9 241.8 648.4 239.2 649.6 237.8C650.8 236.5 652 236 652.5 235.6"/>
<path d="M634.9 204.8C635.9 205.4 639 207 640.8 208.5C642.6 210 644.5 211.8 645.9 213.6C647.2 215.4 648.3 217.2 648.9 219.5C649.5 221.8 649.5 226.2 649.6 227.5"/>
<path d="M631.3 198.2C632.5 198.2 634.2 199.1 634.8 200C635.4 200.9 635.4 202.9 634.8 203.8C634.2 204.7 632.5 205.6 631.3 205.6C630.1 205.6 628.4 204.7 627.8 203.8C627.2 202.9 627.2 200.9 627.8 200C628.4 199.1 630.1 198.2 631.3 198.2Z"/>
<path d="M665 232.7C665.9 232.8 668.3 232.3 670.1 233.4C671.9 234.5 674.3 237.1 676 239.3C677.7 241.5 679.4 244.3 680.4 246.6C681.4 248.9 681.6 252.1 681.8 253.2"/>
<path d="M682.5 254C683.6 253.9 685.5 255.3 686.3 256.5C687 257.7 687.4 259.8 687 261C686.6 262.2 685.1 263.9 684 264C682.9 264.1 681 262.7 680.3 261.5C679.6 260.3 679.3 258.2 679.7 257C680.1 255.8 681.4 254.1 682.5 254Z"/>
<path d="M660.6 276.6C661.3 276.5 664 275.3 665 275.9C666 276.5 666.2 279.6 666.5 280.3"/>
<path d="M576.2 225C576.6 226.7 578.1 230.8 578.7 235C579.3 239.2 579.7 244.2 580 250C580.3 255.8 580.7 263.3 580.5 270C580.3 276.7 579.2 285 578.7 290C578.2 295 578.4 296 577.6 300C576.9 304 575.4 309.2 574.2 313.8C573 318.4 571.3 324.6 570.5 327.7C569.7 330.8 569.4 331.9 569.2 332.7"/>
<path d="M588 220.5C588.2 222.9 589.5 230.1 589.5 235C589.5 239.9 588.5 244.2 588 250C587.5 255.8 587.1 263.3 586.2 270C585.3 276.7 583.4 285 582.5 290C581.6 295 581.5 296 580.6 300C579.7 304 578.3 309.2 577 313.8C575.7 318.4 573.9 324.6 572.8 327.7C571.7 330.8 570.6 331.9 570.2 332.7"/>
</g>
<g class="ln" stroke-width="2.1">
<path d="M495.4 298.6C496 297.4 497.5 293.9 499.1 291.2C500.8 288.5 502.8 285.3 505.3 282.6C507.8 279.9 511 277.3 513.9 275.2C516.8 273.1 519.1 271.6 522.6 270.2C526.1 268.8 528.8 268.3 535 267C541.2 265.7 552.7 263.5 560 262.5C567.3 261.5 575.8 261.4 579 261.2"/>
<path d="M588.5 261.2C589.6 261.3 592.3 261.3 595.1 261.7C597.9 262.1 601.8 263 605.2 263.8C608.6 264.6 611.9 265.5 615.3 266.3C618.7 267.1 622.5 267.6 625.4 268.8C628.3 270 630 271.8 632.5 273.4C635 275 638.1 277.1 640.6 278.4C643.1 279.7 645.5 280.7 647.7 281C649.9 281.3 652.8 280.5 653.8 280.4"/>
<path d="M495.4 298.6C494.8 298.8 493 300.3 491.7 299.5C490.4 298.7 488.3 295.7 487.4 293.7C486.5 291.7 485.8 289.4 486.1 287.5C486.4 285.6 487.4 285.1 489.2 282.6C490.9 280.1 493.7 275.8 496.6 272.7C499.5 269.6 502.8 266.5 506.5 264C510.2 261.5 514.1 259.6 518.9 257.8C523.6 256 528.1 254.5 535 253C541.9 251.5 552.7 249.8 560 248.7C567.3 247.6 575.6 246.6 578.7 246.2"/>
<path d="M589 247.1C590.4 247 594.4 246.4 597.1 246.6C599.8 246.8 602.2 247.2 605.2 248.1C608.2 249 611.9 250.5 615.3 252.1C618.7 253.7 622 256.3 625.4 257.7C628.8 259.1 632.2 259.1 635.6 260.4C639 261.7 642.7 263.3 645.7 265.3C648.7 267.3 651.9 270.5 653.8 272.4C655.7 274.2 656.7 275.7 657.3 276.4"/>
<path d="M442.5 417.5C447.9 416.9 461.2 414.8 475 413.7C488.8 412.6 508.3 412 525 411.2C541.7 410.4 560.5 409.3 575 408.7C589.5 408.1 604.7 408.2 612 407.6C619.3 407 617.8 405.4 619 405"/>
<path d="M619 405C619.2 404.3 619.2 401.5 620 401C620.8 400.5 623.2 400.8 624 402C624.8 403.2 625 406 625 408C625 410 624 412 624 414C624 416 625.3 418.8 625 420C624.7 421.2 622.5 420.8 622 421"/>
<path d="M437.5 420C434.6 420.2 422.7 419.5 420 421.2C417.3 422.9 420.6 428.3 421.2 430C421.8 431.7 419.3 431.2 423.7 431.2C428.1 431.2 437.3 430.8 447.5 430C457.7 429.2 470.4 427.2 485 426.2C499.6 425.1 518.3 424.5 535 423.7C551.7 422.9 571.2 421.9 585 421.2C598.8 420.5 611.8 419.6 618 419.6C624.2 419.6 621.3 420.8 622 421"/>
<path d="M425 410C424.6 406.2 423.6 397.5 422.5 387.5C421.4 377.5 419.9 362.3 418.7 350C417.4 337.7 414.6 320.2 415 313.7C415.4 307.2 419.1 310.6 421.2 311.2C423.3 311.8 425.8 308.9 427.5 317.5C429.2 326.1 429.9 349.6 431.2 362.5C432.4 375.4 433.9 385.8 435 395C436.1 404.2 437.1 413.8 437.5 417.5"/>
<path d="M435 498.7C439.2 498.1 449.6 496.7 460 495C470.4 493.3 485 490.4 497.5 488.7C510 487 520.4 486.2 535 485C549.6 483.8 570.2 482.1 585 481.2C599.8 480.3 617.2 479.8 623.7 479.5"/>
<path d="M435 508.7C439.2 508.4 451.7 507.8 460 507C468.3 506.2 476.7 504.4 485 503.7C493.3 502.9 501.7 503.3 510 502.5C518.3 501.7 524.6 499.9 535 498.7C545.4 497.4 560 496.2 572.5 495C585 493.8 600.1 492.2 610 491.2C619.9 490.1 627.5 489.6 632 488.7C636.5 487.8 636.1 486.4 636.9 486"/>
<path d="M433.7 518.7C435.2 518.3 438.1 517 442.5 516.2C446.9 515.4 452.9 514.7 460 513.7C467.1 512.7 476.7 510.9 485 510C493.3 509.1 501.7 509.1 510 508C518.3 506.9 524.6 505.2 535 503.7C545.4 502.1 560 500.1 572.5 498.7C585 497.2 600.8 495.7 610 495C619.2 494.3 622.8 494.8 627.5 494.5C632.2 494.2 634.9 493.8 638 493C641.1 492.2 644.8 490.5 646.1 490"/>
<path d="M433 521.2C433.1 524.8 432.5 538.8 433.7 542.5C434.9 546.2 438.6 544.1 440 543.7C441.4 543.3 441.8 544 442 540C442.2 536 441.3 523.3 441.2 520"/>
<path d="M629.6 501.2L629.8 522.6L637.2 523.6L637.6 501.2"/>
<path d="M625 404C627.5 401.3 634.8 393.7 640 388C645.2 382.3 651.3 375.3 656 370C660.7 364.7 664.7 360 668 356C671.3 352 674.7 347.7 676 346"/>
<path d="M629 427C630.2 424.8 632.8 418.8 636 414C639.2 409.2 644 403.7 648 398C652 392.3 656.3 385.3 660 380C663.7 374.7 667.5 369.5 670 366C672.5 362.5 674.2 360.2 675 359"/>
<path d="M636.9 486C639.2 483.7 645.8 477.6 650.7 472.2C655.6 466.8 661 459.6 666.1 453.7C671.2 447.8 677.4 440.9 681.4 436.8C685.4 432.7 688.5 430.5 689.9 429.2"/>
<path d="M646.1 490C648.4 487.3 655.3 479.2 659.9 473.7C664.5 468.2 669.7 462.2 673.8 456.8C677.9 451.4 681.8 445.8 684.5 441.4C687.2 437 689 432.5 689.9 430.7"/>
<path d="M663.1 276.6C663.7 277.2 665.7 276.1 666.5 280C667.3 283.9 667 293.4 668.1 300C669.2 306.6 671.9 313.7 673.1 319.8C674.4 325.9 674.8 330.9 675.6 336.5C676.4 342.1 677 345.9 678.1 353.1C679.2 360.4 680.7 372.2 682 380C683.3 387.8 685 393.3 686 400C687 406.7 687.2 415.2 688 420C688.8 424.8 690.5 427.5 691 429"/>
</g>
<g class="ln" stroke-width="2.3">
<path d="M316.2 360C315.2 358.9 313.5 356 310 353.7C306.5 351.4 300.8 348.1 295 346.2C289.2 344.2 281.7 342.6 275 342C268.3 341.4 261.7 341.4 255 342.5C248.3 343.6 241.7 344.9 235 348.7C228.3 352.4 222.1 359.4 215 365C207.9 370.6 200 376.7 192.5 382.5C185 388.3 177.5 392.9 170 400C162.5 407.1 154.6 417.5 147.5 425C140.4 432.5 133.8 438.8 127.5 445C121.2 451.2 115.8 455.8 110 462.5C104.2 469.2 97.5 477.9 92.5 485C87.5 492.1 83.3 498.8 80 505C76.7 511.2 74 517.9 72.5 522.5C71 527.1 70.6 529.4 71.2 532.5C71.8 535.6 73.5 539.1 76.2 541.2C78.9 543.3 83.1 545.2 87.5 545C91.9 544.8 97.1 542.9 102.5 540C107.9 537.1 113.8 532.9 120 527.5C126.2 522.1 133.3 515 140 507.5C146.7 500 153.3 490.3 160 482.5C166.7 474.7 175.1 466.2 180 460.7C184.9 455.2 186.2 453.4 189.4 449.7C192.6 446 195.8 442.6 198.9 438.7C202.1 434.8 204.9 430 208.3 426.1C211.7 422.2 215.9 418.5 219.3 415.1C222.7 411.7 225.4 408.8 228.8 405.6C232.2 402.5 235.6 399.9 239.8 396.2C244 392.5 249.2 387 253.9 383.6C258.6 380.2 263.1 377.8 268.1 375.7C273.1 373.6 278.6 372.3 283.8 371C289 369.7 294.9 369 299.5 367.9C304.1 366.8 308.7 365.6 311.5 364.3C314.3 363 315.4 360.7 316.2 360"/>
<path d="M576.2 225C573.9 225.2 567.7 226 562.5 226.2C557.3 226.4 550.8 226.8 545 226.2C539.2 225.6 532.9 224.8 527.5 222.5C522.1 220.2 516.5 216.1 512.5 212.5C508.5 208.9 505.8 205.2 503.7 201.2C501.6 197.2 500.2 192.6 500 188.7C499.8 184.8 500.4 180.8 502.5 177.5C504.6 174.2 508.3 171.2 512.5 168.7C516.7 166.2 522.1 163.9 527.5 162.5C532.9 161.1 538.8 160.5 545 160C551.2 159.5 558.8 159.3 565 159.5C571.2 159.7 577.1 159.9 582.5 161.2C587.9 162.5 593.1 165 597.5 167.5C601.9 170 606 172.9 608.7 176.2C611.4 179.5 613.1 183.5 613.7 187.5C614.3 191.5 614 196.1 612.5 200C611 203.9 607.9 208.1 605 211.2C602.1 214.3 597.8 217.1 595 218.7C592.2 220.2 589.2 220.2 588 220.5"/>
</g>
<g class="ln" stroke-width="2.4">
<path d="M488 234.6L492.5 234.4"/>
</g>
<g class="ln" stroke-width="2.8">
<path d="M462 297.9L470.5 297"/>
</g>
<g class="ln" stroke-width="2.9">
<path d="M357 325.6L367 326"/>
</g>
<g class="tx" font-family='"Liberation Sans", "Noto Sans CJK JP", sans-serif' font-weight="900">
<text x="310" y="75" font-size="24">ナニカがいるのか</text>
<text x="308" y="198" font-size="24">ベッド</text>
<text x="87" y="298" font-size="24">天井</text>
<text x="35" y="366" font-size="28" font-weight="bold" stroke="#000" stroke-width="0.8" stroke-linejoin="round">Yogibo</text>
<text x="693" y="169" font-size="24">プーメリー</text>
<text x="715" y="321" font-size="24">ベビタム</text>
<text x="479" y="598" font-size="24">ベビーベッド</text>
<text x="199.500" y="670" font-size="24">布団</text>
<text x="519" y="200" font-size="21">きゃはは</text>
</g>
</svg>
</body></html>
